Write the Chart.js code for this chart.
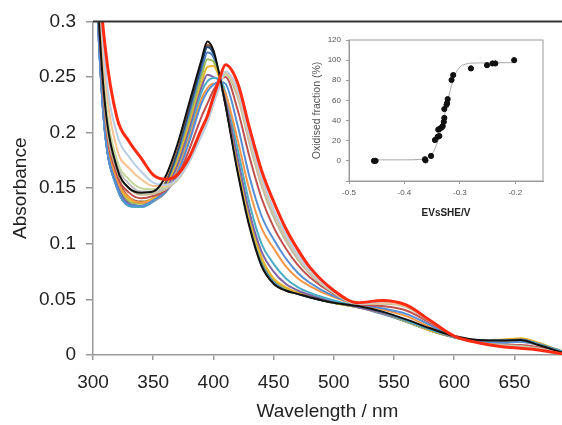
<!DOCTYPE html>
<html>
<head>
<meta charset="utf-8">
<script src="https://cdn.jsdelivr.net/npm/chart.js@4.4.1/dist/chart.umd.min.js"></script>
<style>
  html, body { margin: 0; padding: 0; background: #fff; }
  #wrap { position: relative; width: 562px; height: 425px; }
  #main { position: absolute; left: 0; top: 0; }
  #inset { position: absolute; left: 300px; top: 20px; }
</style>
</head>
<body>
<div id="wrap">
  <canvas id="main" width="562" height="425"></canvas>
  <canvas id="inset" width="262" height="205"></canvas>
</div>
<script>
// spectra: wavelength grid (nm) and absorbance of each titration step
const wavelength = [300, 305, 310, 320, 330, 340, 350, 360, 370, 380, 390, 395, 400, 405, 410, 420, 430, 440, 450, 460, 470, 480, 500, 520, 540, 560, 580, 600, 620, 640, 655, 670, 690];

const reduced  = [0.42, 0.30, 0.225, 0.168, 0.150, 0.146, 0.147, 0.160, 0.189, 0.227, 0.265, 0.282, 0.274, 0.252, 0.225, 0.165, 0.115, 0.080, 0.064, 0.058, 0.055, 0.052, 0.047, 0.044, 0.039, 0.032, 0.024, 0.017, 0.0135, 0.013, 0.0135, 0.009, 0.002];
const oxidised = [0.50, 0.345, 0.278, 0.213, 0.192, 0.177, 0.162, 0.158, 0.162, 0.178, 0.203, 0.215, 0.232, 0.248, 0.261, 0.245, 0.204, 0.166, 0.138, 0.114, 0.095, 0.079, 0.058, 0.047, 0.049, 0.045, 0.031, 0.017, 0.011, 0.0075, 0.006, 0.0045, 0.001];

const step1  = [0.41, 0.29, 0.21, 0.160, 0.142, 0.138, 0.141, 0.155, 0.183, 0.222, 0.262, 0.279, 0.272, 0.250, 0.225, 0.167, 0.117, 0.082, 0.065, 0.058, 0.055, 0.052, 0.047, 0.044, 0.038, 0.031, 0.023, 0.016, 0.013, 0.013, 0.014, 0.010, 0.003];
const step2  = [0.40, 0.28, 0.20, 0.152, 0.136, 0.134, 0.139, 0.152, 0.180, 0.219, 0.259, 0.277, 0.271, 0.250, 0.226, 0.168, 0.118, 0.083, 0.066, 0.059, 0.055, 0.052, 0.047, 0.043, 0.038, 0.030, 0.022, 0.016, 0.013, 0.013, 0.014, 0.010, 0.003];
const step3  = [0.41, 0.28, 0.20, 0.150, 0.134, 0.133, 0.138, 0.150, 0.177, 0.215, 0.254, 0.272, 0.268, 0.250, 0.227, 0.170, 0.120, 0.084, 0.066, 0.059, 0.055, 0.052, 0.047, 0.043, 0.037, 0.030, 0.022, 0.016, 0.0125, 0.0125, 0.0135, 0.010, 0.003];
const step4  = [0.41, 0.29, 0.205, 0.155, 0.138, 0.136, 0.140, 0.150, 0.175, 0.211, 0.250, 0.266, 0.264, 0.249, 0.228, 0.172, 0.122, 0.086, 0.068, 0.060, 0.056, 0.053, 0.047, 0.043, 0.038, 0.030, 0.022, 0.016, 0.013, 0.013, 0.014, 0.010, 0.003];
const step5  = [0.42, 0.29, 0.21, 0.158, 0.140, 0.137, 0.141, 0.150, 0.173, 0.207, 0.244, 0.259, 0.260, 0.249, 0.229, 0.174, 0.124, 0.088, 0.069, 0.061, 0.056, 0.053, 0.047, 0.043, 0.038, 0.031, 0.022, 0.016, 0.013, 0.014, 0.015, 0.011, 0.003];
const step6  = [0.41, 0.28, 0.20, 0.153, 0.136, 0.134, 0.139, 0.148, 0.170, 0.203, 0.240, 0.252, 0.250, 0.246, 0.230, 0.178, 0.128, 0.093, 0.075, 0.064, 0.058, 0.054, 0.048, 0.043, 0.038, 0.031, 0.023, 0.016, 0.013, 0.013, 0.014, 0.010, 0.003];
const step7  = [0.40, 0.28, 0.20, 0.150, 0.134, 0.133, 0.138, 0.146, 0.166, 0.198, 0.236, 0.246, 0.249, 0.248, 0.236, 0.186, 0.136, 0.100, 0.082, 0.069, 0.061, 0.056, 0.049, 0.044, 0.039, 0.031, 0.023, 0.016, 0.013, 0.013, 0.0135, 0.010, 0.003];
const step8  = [0.42, 0.29, 0.21, 0.158, 0.142, 0.137, 0.139, 0.146, 0.165, 0.195, 0.230, 0.240, 0.244, 0.243, 0.235, 0.194, 0.148, 0.114, 0.096, 0.080, 0.069, 0.062, 0.052, 0.045, 0.041, 0.035, 0.025, 0.016, 0.012, 0.011, 0.012, 0.009, 0.002];
const step9  = [0.41, 0.28, 0.20, 0.151, 0.135, 0.134, 0.139, 0.146, 0.163, 0.192, 0.226, 0.237, 0.243, 0.246, 0.244, 0.207, 0.160, 0.125, 0.104, 0.087, 0.074, 0.065, 0.053, 0.046, 0.042, 0.037, 0.027, 0.016, 0.012, 0.011, 0.012, 0.009, 0.002];
const step10 = [0.43, 0.30, 0.215, 0.162, 0.146, 0.141, 0.143, 0.148, 0.160, 0.185, 0.214, 0.226, 0.238, 0.246, 0.250, 0.221, 0.178, 0.141, 0.115, 0.096, 0.081, 0.070, 0.055, 0.046, 0.044, 0.040, 0.029, 0.017, 0.011, 0.009, 0.009, 0.007, 0.002];
const step11 = [0.44, 0.31, 0.22, 0.166, 0.150, 0.144, 0.145, 0.149, 0.158, 0.176, 0.200, 0.212, 0.228, 0.243, 0.253, 0.232, 0.190, 0.152, 0.124, 0.103, 0.086, 0.073, 0.056, 0.046, 0.046, 0.043, 0.030, 0.017, 0.011, 0.009, 0.008, 0.006, 0.002];
const step12 = [0.45, 0.32, 0.23, 0.172, 0.154, 0.147, 0.147, 0.150, 0.157, 0.175, 0.199, 0.211, 0.227, 0.242, 0.254, 0.235, 0.193, 0.155, 0.127, 0.105, 0.088, 0.074, 0.056, 0.046, 0.047, 0.044, 0.031, 0.017, 0.011, 0.008, 0.0075, 0.0055, 0.0015];
const step13 = [0.45, 0.32, 0.235, 0.175, 0.158, 0.150, 0.149, 0.151, 0.157, 0.174, 0.198, 0.210, 0.227, 0.242, 0.252, 0.236, 0.195, 0.157, 0.129, 0.107, 0.089, 0.075, 0.056, 0.046, 0.047, 0.044, 0.031, 0.017, 0.011, 0.008, 0.0075, 0.0055, 0.0015];
const step14 = [0.47, 0.33, 0.25, 0.185, 0.168, 0.158, 0.152, 0.152, 0.158, 0.175, 0.198, 0.210, 0.226, 0.241, 0.254, 0.237, 0.196, 0.158, 0.130, 0.108, 0.090, 0.075, 0.057, 0.046, 0.047, 0.044, 0.031, 0.017, 0.011, 0.008, 0.007, 0.005, 0.0015];
const step15 = [0.48, 0.34, 0.26, 0.198, 0.178, 0.165, 0.155, 0.153, 0.158, 0.174, 0.197, 0.209, 0.226, 0.241, 0.255, 0.239, 0.198, 0.160, 0.131, 0.109, 0.090, 0.076, 0.057, 0.046, 0.048, 0.045, 0.031, 0.017, 0.011, 0.008, 0.007, 0.005, 0.0015];

const steps = [step1, step2, step3, step4, step5, step6, step7, step8, step9, step10, step11, step12, step13, step14, step15];
const stepColors = ['#8C5A2E', '#1F497D', '#4F81BD', '#9BBB59', '#E8B530', '#8064A2', '#4BACC6', '#F79646', '#558ED5', '#C0504D', '#C4BD97', '#BFBFBF', '#C3D69B', '#FAC090', '#B9CDE5'];

const xTicks = [300, 350, 400, 450, 500, 550, 600, 650];

// inset: Nernst plot
const potential  = [-0.455, -0.452, -0.363, -0.362, -0.352, -0.345, -0.340, -0.337, -0.339, -0.336, -0.333, -0.331, -0.329, -0.328, -0.328, -0.324, -0.323, -0.322, -0.315, -0.312, -0.280, -0.251, -0.241, -0.236, -0.202];
const oxFraction = [0, 0, 1.6, 0.5, 4.9, 20.7, 24, 24.6, 31, 32, 33, 34.4, 38.7, 42.6, 51.5, 55.7, 57.4, 61.3, 80.3, 85.2, 91.8, 95, 96.7, 96.7, 100];
const fitE   = [-0.455, -0.40, -0.37, -0.36, -0.35, -0.345, -0.34, -0.335, -0.33, -0.325, -0.32, -0.315, -0.31, -0.30, -0.29, -0.28, -0.25, -0.20];
const fitPct = [1, 1, 1.5, 3, 7, 12, 19, 29, 40, 52, 64, 75, 84, 93, 96, 97, 97.3, 97.5];

function toPoints(xs, ys) {
  return xs.map((x, i) => ({ x: x, y: ys[i] }));
}

// MAIN CHART
const fontName = '"Liberation Sans", Arial, sans-serif';
let datasets = [];
datasets.push({ data: toPoints(wavelength, oxidised), borderColor: '#FF2A12', borderWidth: 3 });
datasets.push({ data: toPoints(wavelength, reduced), borderColor: '#111111', borderWidth: 2 });
for (let i = steps.length - 1; i >= 0; i--) {
  datasets.push({ data: toPoints(wavelength, steps[i]), borderColor: stepColors[i], borderWidth: 2 });
}

const topLine = {
  id: 'topLine',
  afterDraw(chart) {
    const { ctx, chartArea: a } = chart;
    ctx.save();
    ctx.strokeStyle = '#333';
    ctx.lineWidth = 2;
    ctx.beginPath();
    ctx.moveTo(a.left, a.top);
    ctx.lineTo(a.right, a.top);
    ctx.stroke();
    ctx.restore();
  }
};

new Chart(document.getElementById('main'), {
  type: 'line',
  data: { datasets: datasets },
  options: {
    responsive: false,
    animation: false,
    layout: { padding: { top: 18, right: 0, left: 0, bottom: 0 } },
    elements: { point: { radius: 0 }, line: { cubicInterpolationMode: 'monotone', fill: false } },
    plugins: { legend: { display: false }, tooltip: { enabled: false } },
    scales: {
      x: {
        type: 'linear', min: 300, max: 689.5,
        afterBuildTicks: s => { s.ticks = xTicks.map(v => ({ value: v })); },
        afterFit: s => { s.height = 70; },
        ticks: { font: { family: fontName, size: 19 }, color: '#222', padding: 11, maxRotation: 0, autoSkip: false },
        grid: { drawOnChartArea: false, tickLength: 5, color: '#999', lineWidth: 1.5 },
        border: { color: '#999', width: 1.5 },
        title: { display: true, text: 'Wavelength / nm', color: '#222', font: { family: fontName, size: 19 }, padding: { top: 0, bottom: 2 } }
      },
      y: {
        min: 0, max: 0.3,
        afterFit: s => { s.width = 93; },
        ticks: { stepSize: 0.05, font: { family: fontName, size: 19 }, color: '#222', padding: 10,
                 callback: v => String(+v.toFixed(2)) },
        grid: { drawOnChartArea: false, tickLength: 7, color: '#999', lineWidth: 1.5 },
        border: { color: '#999', width: 1.5 },
        title: { display: true, text: 'Absorbance', color: '#222', font: { family: fontName, size: 19 }, padding: { top: 9, bottom: 0 } }
      }
    }
  },
  plugins: [topLine]
});

// INSET
const insetBox = {
  id: 'insetBox',
  afterDraw(chart) {
    const { ctx, chartArea: a } = chart;
    ctx.save();
    ctx.strokeStyle = '#9a9a9a';
    ctx.lineWidth = 1;
    ctx.strokeRect(a.left, a.top, a.right - a.left, a.bottom - a.top);
    ctx.restore();
  }
};

new Chart(document.getElementById('inset'), {
  type: 'scatter',
  data: {
    datasets: [
      { data: toPoints(potential, oxFraction), pointRadius: 2.6, pointBackgroundColor: '#111', pointBorderColor: '#111', showLine: false },
      { data: toPoints(fitE, fitPct), showLine: true, pointRadius: 0, borderColor: '#a8a8a8', borderWidth: 1, cubicInterpolationMode: 'monotone' }
    ]
  },
  options: {
    responsive: false,
    animation: false,
    layout: { padding: { top: 20, right: 19, left: 0, bottom: 0 } },
    plugins: { legend: { display: false }, tooltip: { enabled: false } },
    scales: {
      x: {
        type: 'linear', min: -0.5, max: -0.15,
        afterBuildTicks: s => { s.ticks = [-0.5, -0.4, -0.3, -0.2].map(v => ({ value: v })); },
        afterFit: s => { s.height = 44; },
        ticks: { font: { family: fontName, size: 8 }, color: '#555', padding: 4, maxRotation: 0, callback: v => v.toFixed(1) },
        grid: { drawOnChartArea: false, tickLength: 3, color: '#9a9a9a' },
        border: { color: '#9a9a9a' },
        title: { display: true, text: 'EVsSHE/V', color: '#222', font: { family: fontName, size: 10, weight: 'bold' }, padding: { top: 0, bottom: 6 } }
      },
      y: {
        min: -20, max: 120,
        afterFit: s => { s.width = 49; },
        ticks: { stepSize: 20, font: { family: fontName, size: 8 }, color: '#555', padding: 5,
                 callback: v => (v < 0 ? '' : v) },
        grid: { drawOnChartArea: false, tickLength: 3, color: '#9a9a9a' },
        border: { color: '#9a9a9a' },
        title: { display: true, text: 'Oxidised fraction (%)', color: '#555', font: { family: fontName, size: 10.5 }, padding: { top: 11, bottom: 0 } }
      }
    }
  },
  plugins: [insetBox]
});
</script>
</body>
</html>
